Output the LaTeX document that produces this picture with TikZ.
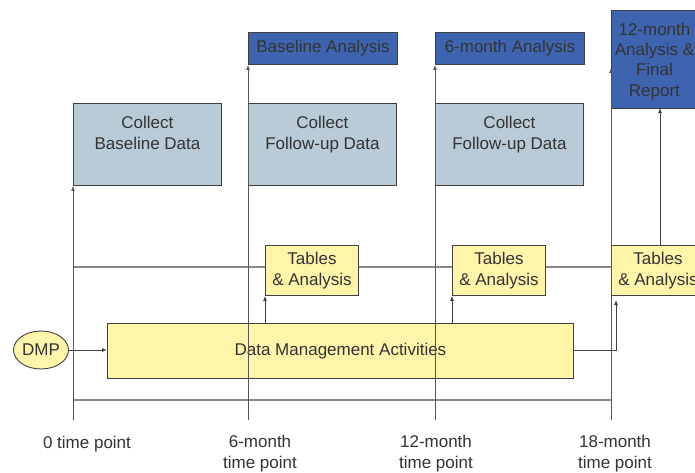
\documentclass[tikz,border=0pt]{standalone}
\usepackage{fontspec}
\setmainfont{Liberation Sans}
\usetikzlibrary{arrows.meta,shapes.geometric}
\definecolor{txt}{HTML}{333333}
\definecolor{edge}{HTML}{404040}
\definecolor{tline}{HTML}{555555}
\definecolor{hline}{HTML}{8A8A8A}
\definecolor{grayblue}{HTML}{B9CBD6}
\definecolor{bluebox}{HTML}{3E64B0}
\definecolor{yel}{HTML}{FFF5AA}
\begin{document}
\begin{tikzpicture}[x=1pt,y=-1pt,
  font=\fontsize{17}{20.5}\selectfont,
  box/.style={draw=edge, line width=0.9pt, inner sep=0pt, anchor=north west, text=txt, align=center},
  collectbox/.style={box, fill=grayblue, minimum width=148pt, minimum height=82pt},
  anabox/.style={box, fill=bluebox, minimum width=149pt, minimum height=32pt},
  tabbox/.style={box, fill=yel, minimum width=93pt, minimum height=50pt},
  lbl/.style={text=txt, align=center, inner sep=0pt},
  tl/.style={draw=tline, line width=1pt},
  hl/.style={draw=hline, line width=1.4pt},
  arr/.style={draw=edge, line width=0.9pt, -{Latex[length=5pt,width=4pt]}}
]
\clip (0,0) rectangle (695,473);
\fill[white] (0,0) rectangle (695,473);

% horizontal lines (behind)
\coordinate (hm0) at (73,267);
\coordinate (hm1) at (611,267);
\coordinate (hb0) at (73,400);
\coordinate (hb1) at (611,400);
\draw[hl] (hm0) -- (hm1);
\draw[hl] (hb0) -- (hb1);

% boxes
\node[collectbox] (cb) at (73,103) {};
\node[lbl, anchor=north] (cbt) at ([yshift=-13pt]cb.north) {Collect\\Baseline Data};
\node[collectbox] (cf1) at (248,103) {};
\node[lbl, anchor=north] (cf1t) at ([yshift=-13pt]cf1.north) {Collect\\Follow-up Data};
\node[collectbox] (cf2) at (435,103) {};
\node[lbl, anchor=north] (cf2t) at ([yshift=-13pt]cf2.north) {Collect\\Follow-up Data};

\node[anabox] (ba) at (248,32) {Baseline Analysis};
\node[anabox] (sa) at (435,32) {6-month Analysis};
\node[box, fill=bluebox, minimum width=88pt, minimum height=98pt] (ta) at (611,10) {};
\node[lbl, anchor=north, font=\fontsize{17}{20.2}\selectfont] (tat) at ([xshift=-1pt,yshift=-13pt]ta.north) {12-month\\Analysis \&\\Final\\Report};

\node[tabbox] (t1) at (265,245) {Tables\\\& Analysis};
\node[tabbox] (t2) at (452,245) {Tables\\\& Analysis};
\node[tabbox] (t3) at (611,245) {Tables\\\& Analysis};

\node[box, fill=yel, minimum width=466pt, minimum height=55pt] (dma) at (107,323) {Data Management Activities};
\node[draw=edge, line width=0.9pt, fill=yel, ellipse, minimum width=55pt, minimum height=38pt, inner sep=0pt, text=txt] (dmp) at (41,350) {DMP};

% time lines
\coordinate (b0) at (73,420);
\coordinate (b1) at (248,420);
\coordinate (b2) at (435,420);
\coordinate (b3) at (611,420);
\coordinate (e3) at (611,68);
\draw[tl, arr, draw=tline] (b0) -- (cb.south west);
\draw[tl, arr, draw=tline] (b1) -- (ba.south west);
\draw[tl, arr, draw=tline] (b2) -- (sa.south west);
\draw[tl, arr, draw=tline] (b3) -- (e3);

% connectors
\draw[arr] (dmp.east) -- (dmp.east -| dma.west);
\draw[arr] (dma.north west -| t1.south west) -- (t1.south west);
\draw[arr] (dma.north west -| t2.south west) -- (t2.south west);
\coordinate (c1) at (616,350);
\coordinate (c2) at (616,300);
\draw[arr] (dma.east |- c1) -- (c1) -- (c2);
\coordinate (t3top) at (660,245);
\coordinate (tabot) at (660,108);
\draw[arr] (t3top) -- (tabot);

% time labels
\node[lbl] (l0) at (87,444) {0 time point};
\node[lbl, anchor=north] (l1) at (260,435) {6-month\\time point};
\node[lbl, anchor=north] (l2) at (436,435) {12-month\\time point};
\node[lbl, anchor=north] (l3) at (615,435) {18-month\\time point};
\end{tikzpicture}
\end{document}
